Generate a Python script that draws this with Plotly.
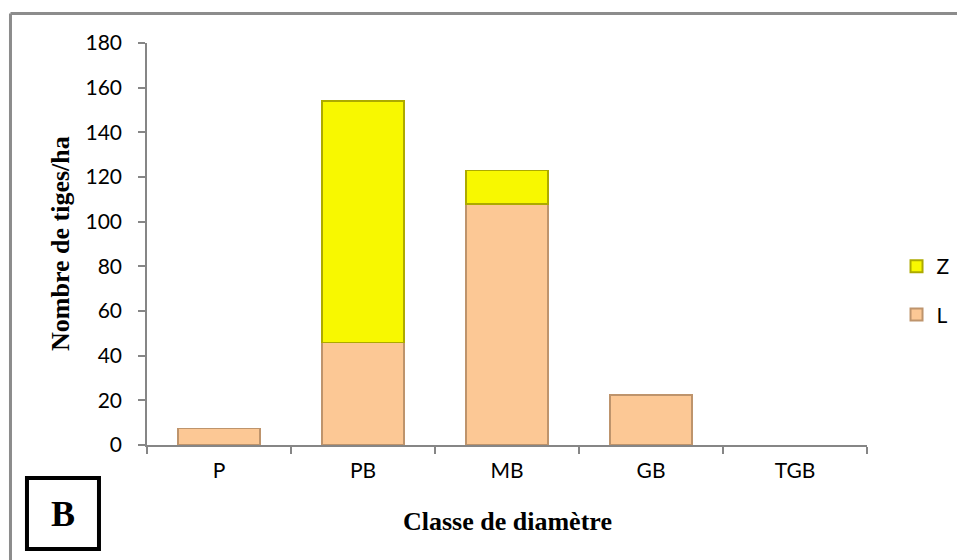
import plotly.graph_objects as go

# Stand density by diameter class (None = no stems in that class)
classes = ["P", "PB", "MB", "GB", "TGB"]
stems_L = [7.5, 46, 108, 22.5, None]
stems_Z = [None, 108, 15, None, None]

tick_font = dict(family="Lato, Calibri, sans-serif", size=21, color="#000000")
title_font = dict(family="Liberation Serif, Times New Roman, serif", size=26, color="#000000")

fig = go.Figure()
fig.add_trace(go.Bar(
    x=classes, y=stems_L, name="L", legendgroup="L", legendrank=2,
    marker=dict(color="#FCC895", line=dict(color="#BE946C", width=1.5)),
))
fig.add_trace(go.Bar(
    x=classes, y=stems_Z, name="Z", legendgroup="Z", legendrank=1,
    marker=dict(color="#F8F800", line=dict(color="#ADAA00", width=1.5)),
))

frame = dict(color="#8C8C8C", width=3)

fig.update_layout(
    width=957, height=560,
    margin=dict(l=147, r=90, t=43, b=115, autoexpand=False),
    paper_bgcolor="white", plot_bgcolor="white",
    barmode="stack", bargap=0.43,
    showlegend=True,
    legend=dict(
        x=1.041, y=0.384, xanchor="left", yanchor="middle",
        traceorder="grouped", tracegroupgap=18, itemsizing="constant",
        font=tick_font, bgcolor="rgba(0,0,0,0)",
    ),
    xaxis=dict(
        type="category", tickson="boundaries", ticks="outside", ticklen=7,
        tickcolor="#868686", tickwidth=1.5, showline=True, linecolor="#868686",
        linewidth=1.5, showgrid=False, tickfont=tick_font, ticklabelstandoff=6,
        range=[-0.5, 4.5],
    ),
    yaxis=dict(
        range=[0, 180], dtick=20, ticks="outside", ticklen=7,
        tickcolor="#868686", tickwidth=1.5, showline=True, linecolor="#868686",
        linewidth=1.5, showgrid=False, zeroline=False, tickfont=tick_font,
        ticklabelstandoff=12,
    ),
    shapes=[
        # outer chart frame: top and left edges
        dict(type="line", xref="paper", yref="paper",
             x0=-0.1896, x1=1.4, y0=1.0734, y1=1.0734, line=frame, layer="below"),
        dict(type="line", xref="paper", yref="paper",
             x0=-0.1896, x1=-0.1896, y0=-0.4, y1=1.0734, line=frame, layer="below"),
        # panel letter box
        dict(type="rect", xref="paper", yref="paper",
             x0=-0.1667, x1=-0.0667, y0=-0.2587, y1=-0.0821,
             line=dict(color="#000000", width=4)),
    ],
    annotations=[
        dict(text="<b>Classe de diamètre</b>", xref="paper", yref="paper",
             x=(507 - 147) / 720, y=(445 - 521) / 402, showarrow=False,
             xanchor="center", yanchor="middle", font=title_font),
        dict(text="<b>Nombre de tiges/ha</b>", xref="paper", yref="paper",
             x=(60 - 147) / 720, y=(445 - 244) / 402, showarrow=False,
             textangle=-90, xanchor="center", yanchor="middle", font=title_font),
        dict(text="<b>B</b>", xref="paper", yref="paper",
             x=-0.1167, y=-0.1704, showarrow=False,
             xanchor="center", yanchor="middle",
             font=dict(family="Liberation Serif, Times New Roman, serif", size=36, color="#000000")),
    ],
)

fig.write_html("out.html")
